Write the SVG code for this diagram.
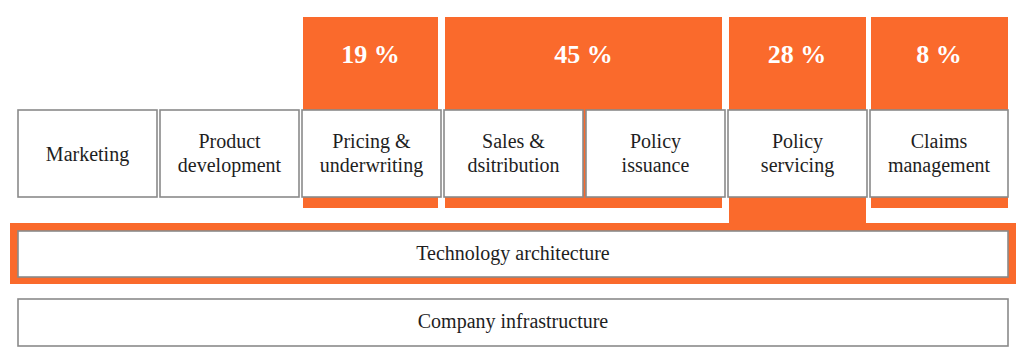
<svg xmlns="http://www.w3.org/2000/svg" width="1024" height="363" viewBox="0 0 1024 363">
<style>
.or{fill:#FA6A2C}
.bx{fill:#fff;stroke:#8a8a8a;stroke-width:1.6}
.lb{font-family:"Liberation Serif",serif;font-size:20px;fill:#1e1e1e;text-anchor:middle}
.pc{font-family:"Liberation Serif",serif;font-size:26px;font-weight:bold;fill:#fff;text-anchor:middle}
</style>
<rect width="1024" height="363" fill="#fff"/>
<g id="highlights">
<rect class="or" x="303" y="17" width="135" height="191"/>
<rect class="or" x="445" y="17" width="277" height="191"/>
<rect class="or" x="729" y="17" width="137" height="210"/>
<rect class="or" x="871" y="17" width="137" height="191"/>
<rect class="or" x="10" y="223" width="1006" height="61"/>
</g>
<g id="pct19"><text class="pc" x="370.5" y="63">19 %</text></g>
<g id="pct45"><text class="pc" x="583.5" y="63">45 %</text></g>
<g id="pct28"><text class="pc" x="797" y="63">28 %</text></g>
<g id="pct8"><text class="pc" x="939" y="63">8 %</text></g>
<g id="marketing"><rect class="bx" x="18" y="110" width="139" height="87"/><text class="lb" x="87.5" y="161">Marketing</text></g>
<g id="product"><rect class="bx" x="160" y="110" width="139" height="87"/><text class="lb" x="229.5" y="148">Product</text><text class="lb" x="229.5" y="172">development</text></g>
<g id="pricing"><rect class="bx" x="302" y="110" width="139" height="87"/><text class="lb" x="371.5" y="148">Pricing &amp;</text><text class="lb" x="371.5" y="172">underwriting</text></g>
<g id="sales"><rect class="bx" x="444" y="110" width="139" height="87"/><text class="lb" x="513.5" y="148">Sales &amp;</text><text class="lb" x="513.5" y="172">dsitribution</text></g>
<g id="issuance"><rect class="bx" x="586" y="110" width="139" height="87"/><text class="lb" x="655.5" y="148">Policy</text><text class="lb" x="655.5" y="172">issuance</text></g>
<g id="servicing"><rect class="bx" x="728" y="110" width="139" height="87"/><text class="lb" x="797.5" y="148">Policy</text><text class="lb" x="797.5" y="172">servicing</text></g>
<g id="claims"><rect class="bx" x="870" y="110" width="138" height="87"/><text class="lb" x="939" y="148">Claims</text><text class="lb" x="939" y="172">management</text></g>
<g id="technology"><rect class="bx" x="18" y="231" width="990" height="46"/><text class="lb" x="513" y="260">Technology architecture</text></g>
<g id="company"><rect class="bx" x="18" y="299" width="990" height="47"/><text class="lb" x="513" y="328">Company infrastructure</text></g>
<g id="connectors"/>
</svg>
